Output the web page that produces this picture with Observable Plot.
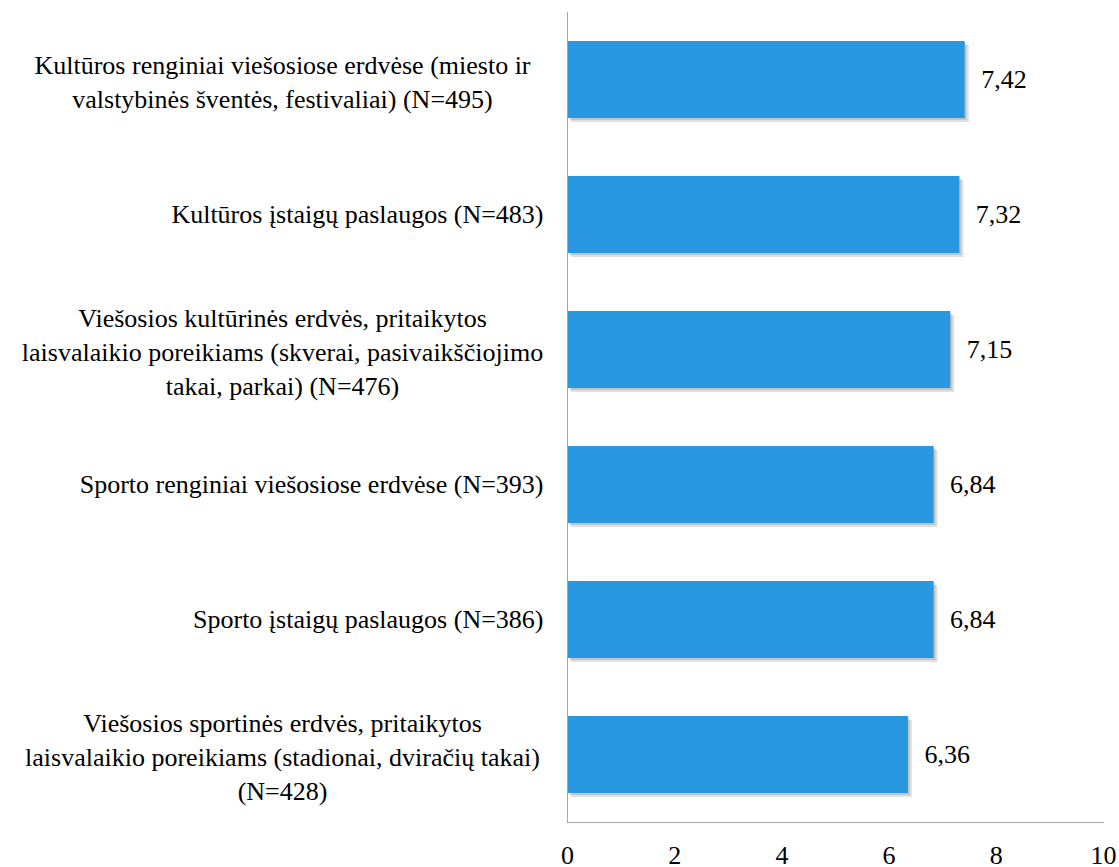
<!DOCTYPE html>
<html><head><meta charset="utf-8">
<script src="https://cdn.jsdelivr.net/npm/d3@7"></script>
<script src="https://cdn.jsdelivr.net/npm/@observablehq/plot@0.6"></script>
<style>body{margin:0;background:#fff}</style>
</head><body><div id="chart"></div>
<script>
const categories = [
  "Kultūros renginiai viešosiose erdvėse (miesto ir\nvalstybinės šventės, festivaliai) (N=495)",
  "Kultūros įstaigų paslaugos (N=483)",
  "Viešosios kultūrinės erdvės, pritaikytos\nlaisvalaikio poreikiams (skverai, pasivaikščiojimo\ntakai, parkai) (N=476)",
  "Sporto renginiai viešosiose erdvėse (N=393)",
  "Sporto įstaigų paslaugos (N=386)",
  "Viešosios sportinės erdvės, pritaikytos\nlaisvalaikio poreikiams (stadionai, dviračių takai)\n(N=428)"
];
const values = [7.42, 7.32, 7.15, 6.84, 6.84, 6.36];
const xTicks = [0, 2, 4, 6, 8, 10];

const data = categories.map((c, i) => ({category: c, value: values[i]}));
const fmt = v => d3.format(".2f")(v).replace(".", ",");
const single = data.filter(d => !d.category.includes("\n"));
const multi = data.filter(d => d.category.includes("\n"));
const FONT = "Liberation Serif";

const chart = Plot.plot({
  width: 1119, height: 867,
  marginLeft: 567, marginRight: 16, marginTop: 12, marginBottom: 45,
  style: {fontFamily: FONT, fontSize: "26px"},
  x: {domain: [0, 10], ticks: xTicks, tickSize: 0, tickPadding: 23, label: null},
  y: {domain: categories, axis: null, paddingInner: 0.43, paddingOuter: 0.215},
  marks: [
    Plot.barX(data, {x: "value", y: "category", fill: "#000", fillOpacity: 0.12, dx: 4, dy: 4}),
    Plot.barX(data, {x: "value", y: "category", fill: "#000", fillOpacity: 0.12, dx: 2, dy: 2}),
    Plot.barX(data, {x: "value", y: "category", fill: "#2A98E0"}),
    Plot.ruleX([0], {stroke: "#a6a6a6"}),
    Plot.frame({anchor: "bottom", stroke: "#a6a6a6"}),
    Plot.text(data, {x: "value", y: "category", text: d => fmt(d.value), textAnchor: "start", dx: 16, fontSize: 26, fontFamily: FONT, fill: "#000"}),
    Plot.text(single, {x: 0, y: "category", text: "category", textAnchor: "end", dx: -24, fontSize: 26, fontFamily: FONT, fill: "#000"}),
    Plot.text(multi, {x: 0, y: "category", text: "category", textAnchor: "middle", dx: -285, fontSize: 26, fontFamily: FONT, lineHeight: 1.3, fill: "#000"})
  ]
});

document.getElementById("chart").appendChild(chart);
</script>
</body></html>
